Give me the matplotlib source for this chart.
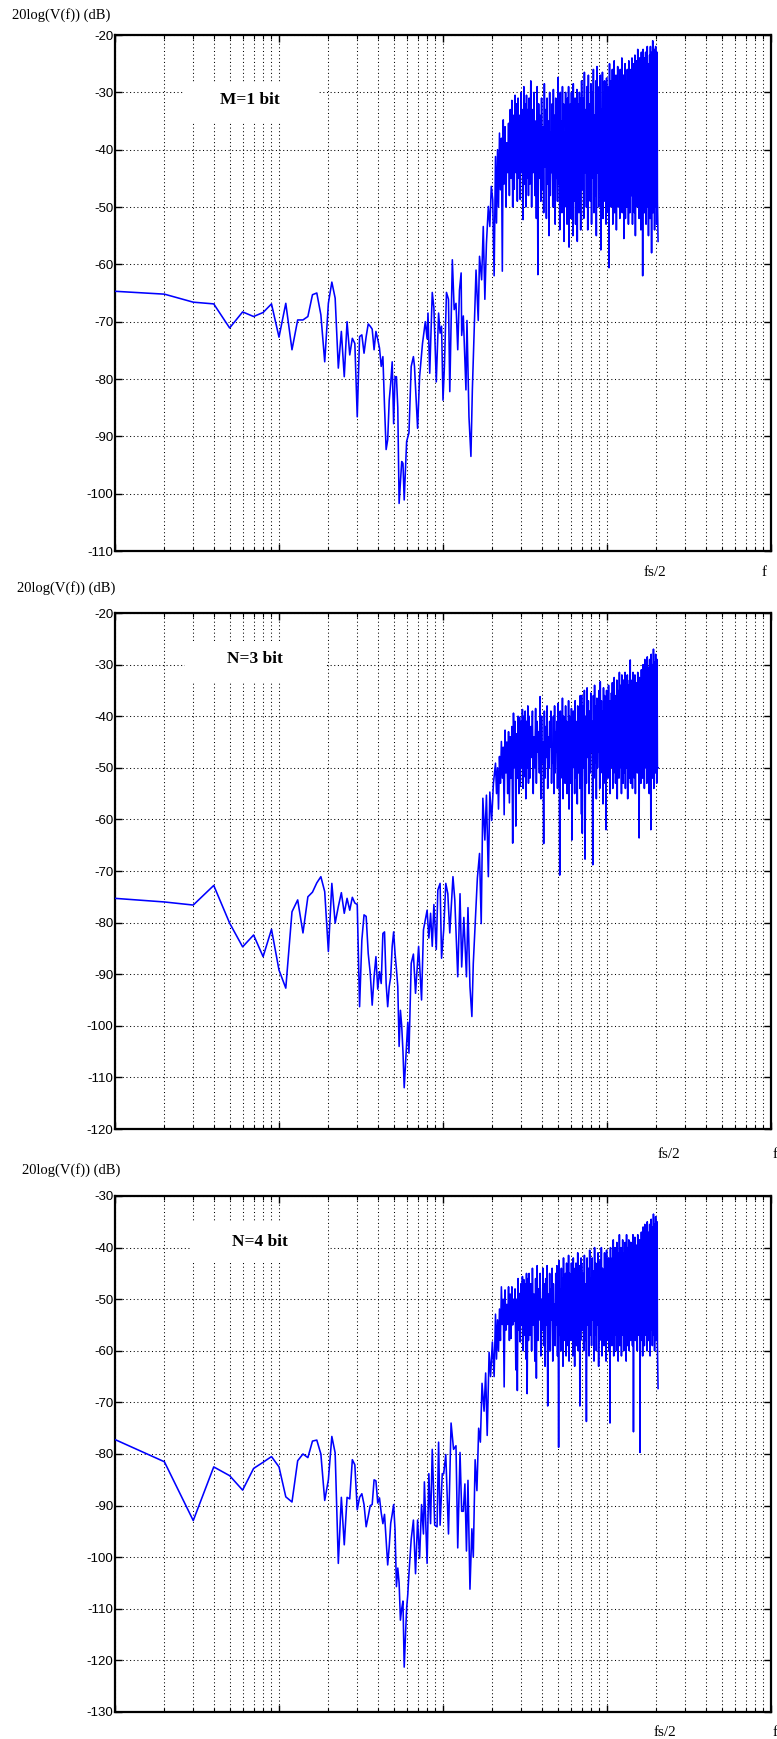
import numpy as np
import matplotlib
matplotlib.use('Agg')
import matplotlib.pyplot as plt
from matplotlib.ticker import LogLocator, NullFormatter, MultipleLocator
from matplotlib.patches import Rectangle

plt.rcParams['axes.unicode_minus'] = False
plt.rcParams['font.family'] = ['Liberation Sans', 'DejaVu Sans']

# ---------------- data: FFT bins (1..2048) and level in dB ----------------
# dense high-frequency part: (first bin, bin step); values alternate
# between the "peaks" list (even positions) and the "dips" list (odd positions)
DENSE_SEGMENTS = [(209, 3), (335, 4), (700, 7), (1400, 10)]
LAST_BIN = 2048

# Panel 1 : M=1 bit
p1_low = [-64.7, -65.2, -66.6, -66.9, -71.1, -68.3, -69.1, -68.4, -66.9, -72.7,
          -66.8, -74.9, -69.7, -69.7, -69.1, -65.3, -65.0, -68.8, -77.0, -66.8,
          -63.1, -65.9, -78.1, -71.7, -79.6, -70.0, -75.8, -72.9, -73.8, -86.6,
          -72.6, -72.3, -75.5, -72.6, -70.4, -70.8, -71.3, -74.9, -71.7, -73.1,
          -74.6, -77.8, -76.1, -84.8, -92.3, -90.6, -83.7, -80.7, -77.0, -87.8,
          -79.6, -79.6, -85.0, -101.7]
p1_mid = [(55, -98), (56, -94.4), (57, -94.7), (58, -101.1), (60, -90.9), (62, -89.4),
          (64, -77.8), (66, -76.1), (67, -77.8), (70, -88.6), (72, -79.6), (75, -73.8),
          (78, -70.0), (80, -73), (81, -68.5), (83, -79), (86, -64.9), (88, -67.6),
          (91, -80.5), (94, -68.5), (96, -72), (98, -70.8), (100, -83.7), (102, -77.8),
          (105, -64.9), (108, -66.1), (110, -82.2), (114, -59.2), (117, -67.9), (120, -66.8),
          (123, -74.9), (126, -64.5), (129, -61.5), (130, -72.4), (133, -69), (138, -81.9),
          (140, -69.8), (144, -86.6), (148, -93.5), (151, -81.9), (155, -71.6), (159, -61),
          (164, -69.8), (167, -58.6), (172, -62.7), (176, -53.4), (180, -66.1), (184, -56.4),
          (189, -49.9), (193, -53.4), (197, -46.4), (201, -48.7), (205, -62)]
p1_peaks_0 = [-41.2, -40, -37.1, -38, -34.8, -36, -38.8, -35.4, -33, -31.4, -34,
              -30.5, -32, -31, -34, -30, -33, -29, -32, -30.5, -33]
p1_dips_0 = [-52.8, -50, -47, -61.2, -46, -50, -44, -48, -45, -50, -46.9,
             -44, -49, -45, -48.7, -44, -52.2, -46, -50, -45, -48]
p1_peaks_a = [-31, -28, -33, -30, -35, -29, -32, -34, -31, -36, -28.5, -33, -31, -35, -30,
              -37, -32, -29.5, -34, -31, -36, -27.4, -33, -30, -35, -29, -32, -37, -30, -34,
              -31, -29, -36, -32, -30, -35, -28.5, -33, -31, -36, -29.5, -32, -34, -30, -33, -31]
p1_dips_a = [-46, -50, -44, -48, -52, -61.8, -45, -49, -47, -51, -43, -52, -46, -55, -48,
             -44, -50, -47, -53, -45, -49, -46, -54, -48, -51, -44, -56, -47, -50, -53,
             -45, -57, -48, -52, -46, -55, -49, -44, -53, -47, -56, -45, -51, -48, -54, -47]
p1_peaks_b = [-28, -31, -26.5, -33, -29, -27, -32, -28.5, -30, -26, -34, -28, -25.5, -31, -29,
              -27, -33, -26.5, -30, -28, -32, -27.5, -29, -31, -25, -28, -32, -26, -29, -24.5,
              -31, -27, -30, -25.5, -33, -28, -26, -30, -24, -29, -27, -32, -25, -28, -30,
              -26, -31, -24.5, -28, -27]
p1_dips_b = [-47, -52, -44, -50, -54, -46, -49, -53, -45, -51, -48, -55, -44, -50, -47,
             -57.5, -46, -52, -49, -45, -53, -48, -51, -60.6, -46, -50, -44, -53, -48, -51,
             -45, -54, -47, -50, -43, -52, -48, -46, -51, -49, -55.5, -45, -52, -47, -50,
             -44, -53, -48, -51, -46]
p1_peaks_c = [-26, -24, -28, -25, -23.5, -27, -24.5, -22.5, -26, -24, -29, -23, -25.5, -22.5,
              -27, -24, -23, -26, -22, -25, -28, -23.5, -22, -25, -23, -21, -24, -22.5, -26,
              -22, -24, -23]
p1_dips_c = [-48, -53, -46, -51, -55, -47, -50, -44, -52, -49, -54, -46, -62, -48, -51, -45,
             -53, -50, -47, -55, -49, -52, -46, -58, -48, -51, -45, -54, -50, -47, -53, -49]
p1_last = -56

# Panel 2 : N=3 bit
p2_low = [-75.3, -76.0, -76.6, -72.8, -80.1, -84.7, -82.4, -86.6, -81.3, -89.2,
          -92.7, -77.9, -75.6, -82.0, -75.0, -74.1, -72.3, -71.1, -74.0, -85.6,
          -72.4, -80.1, -76.9, -74.2, -78.2, -75.3, -77.6, -75.1, -76.2, -76.5,
          -96.3, -83.4, -78.5, -78.8, -86.0, -89.8, -96.0, -90.5, -86.6, -92.9,
          -89.5, -91.8, -82.1, -81.8, -91.8, -96.3, -92.4, -90.5, -84.6, -81.8,
          -86.0, -89.0, -92.4, -104.0, -97.0]
p2_mid = [(56, -100), (57, -105), (58, -112), (60, -103.4), (61, -99.3), (62, -105.3),
          (64, -87.9), (66, -86.1), (68, -93.7), (71, -84.6), (74, -95), (76, -81.4),
          (80, -77.6), (82, -83), (84, -78.2), (86, -84.6), (88, -76.5), (91, -85.2),
          (93, -73.7), (96, -72.4), (98, -86.9), (101, -81.4), (104, -72.4), (107, -74.4),
          (110, -82), (115, -71.1), (118, -75.6), (123, -90.5), (127, -74.4), (130, -88.6),
          (134, -79), (139, -90.5), (142, -77.1), (146, -92.4), (150, -98.2), (153, -87.9),
          (157, -80.5), (162, -71.4), (167, -66.6), (171, -80.2), (175, -55.9), (180, -64),
          (184, -55.3), (189, -71.1), (193, -54.7), (198, -60.2), (203, -53)]
p2_peaks_0 = [-49.1, -50, -47.8, -44.9, -46, -42.7, -45, -43, -44, -42, -39.4,
              -41, -43.4, -40, -40.2, -41, -38.7, -40, -39, -41, -38]
p2_dips_0 = [-55, -58, -53, -52, -59.1, -51, -55, -56.8, -52, -64.6, -50,
             -61.3, -52, -55, -53.6, -50, -54, -51.7, -56, -50, -53]
p2_peaks_a = [-40, -42, -39, -44, -38.5, -41, -43, -36.2, -40, -45, -39, -42, -38, -44, -41,
              -39, -46, -40, -38, -43, -41, -37.5, -44, -39, -42, -36.5, -40, -45, -38, -41,
              -43, -37, -40, -44, -38.5, -42, -39, -46, -37, -41, -43, -38, -40, -44, -36, -39]
p2_dips_a = [-52, -48, -55, -50, -53, -47, -51, -56, -49, -64.7, -52, -48, -54, -50, -46,
             -53, -49, -55, -51, -47, -54, -50, -70.8, -52, -48, -56, -50, -53, -47, -55,
             -51, -58, -49, -53, -64, -50, -47, -55, -52, -49, -57, -51, -48, -54, -50, -59]
p2_peaks_b = [-36, -38, -35, -40, -34.5, -37, -39, -35.5, -41, -36, -34, -38, -36.5, -40, -35,
              -33.3, -37, -39, -34.5, -36, -41, -35, -38, -34, -37, -40, -35.5, -33.5, -38,
              -32.5, -36, -39, -33, -35, -37, -31.5, -34, -38, -32, -36, -33, -39, -31.5, -35,
              -37, -32, -34, -36, -33, -29.1]
p2_dips_b = [-62.7, -50, -67.7, -53, -48, -55, -51, -47, -68.8, -52, -49, -56, -50, -47, -54,
             -51, -48, -57, -50, -53, -62, -49, -52, -47, -55, -50, -48, -54, -51, -46,
             -53, -49, -56, -48, -52, -50, -47, -55, -49, -53, -46, -51, -54, -48, -50,
             -56, -47, -52, -49, -53]
p2_peaks_c = [-33, -35, -31.5, -34, -32, -36, -33.5, -31.5, -35, -32.5, -34, -31, -33, -30,
              -32.5, -29, -31, -33, -28.5, -30.5, -32, -29, -31, -28, -30, -32, -27, -29.5,
              -31, -28, -30, -29]
p2_dips_c = [-50, -54, -48, -52, -55, -49, -51, -47, -63.6, -50, -53, -48, -52, -46, -54, -50,
             -49, -53, -47, -51, -55, -48, -62, -50, -52, -47, -54, -49, -51, -48, -53, -50]
p2_last = -50

# Panel 3 : N=4 bit
p3_low = [-77.2, -81.5, -92.9, -82.5, -84.2, -87.0, -82.8, -81.6, -80.5, -82.5,
          -88.3, -89.3, -81.3, -80.0, -80.7, -77.5, -77.3, -80.0, -89.0, -85.0,
          -76.6, -79.8, -101.2, -88.4, -97.6, -88.4, -88.7, -81.1, -82.1, -90.8,
          -88.4, -87.7, -89.8, -94.1, -92.1, -90.0, -89.8, -85.0, -85.2, -89.5,
          -88.5, -91.4, -93.5, -91.7, -96.6, -101.5, -97.9, -93.4, -91.7, -89.8,
          -94.7, -105.7, -102.1, -105.0, -112.2]
p3_mid = [(56, -110), (57, -108.5), (58, -121.3), (60, -109.9), (61, -107.2), (62, -103.2),
          (64, -96.5), (66, -92.8), (68, -103.2), (70, -92.8), (72, -100.2), (74, -89.8),
          (76, -95.5), (77, -85.4), (80, -101.2), (82, -83.8), (84, -93.5), (86, -79.1),
          (89, -93.8), (92, -94.1), (94, -77.7), (96, -93.8), (99, -83.8), (101, -83.8),
          (104, -80.1), (108, -95.5), (112, -74), (116, -79.1), (120, -78.4), (123, -98.2),
          (127, -79.7), (130, -91.1), (133, -91.1), (136, -85.8), (139, -98.8), (142, -85.1),
          (146, -106.2), (150, -94.5), (153, -99.9), (157, -81.1), (161, -87.1), (165, -75),
          (169, -77.7), (173, -66.3), (178, -71.7), (182, -64.3), (186, -76.4), (191, -60.3),
          (195, -65), (200, -58.3), (205, -65)]
p3_peaks_0 = [-52.9, -54, -51.9, -47.6, -50, -48.2, -51, -47.6, -49, -47.6, -50,
              -48, -50, -46, -48.9, -47, -45.6, -46.2, -47, -45, -46]
p3_dips_0 = [-61.6, -60, -58, -54.9, -67, -56, -54.9, -58, -57.6, -55, -54.3,
             -63.7, -67.7, -56, -58.3, -55, -60, -57, -61.6, -68.3, -58]
p3_peaks_a = [-45, -47, -44, -49, -46, -43.5, -48, -45, -50, -44, -47, -46, -43.5, -49, -45,
              -48, -44, -47, -51, -45, -43.5, -46, -42.5, -48, -44, -46, -42, -49, -45, -43,
              -47, -41.5, -45, -48, -43, -46, -42, -50, -44, -43, -47, -41, -45, -43.5, -48, -42]
p3_dips_a = [-57, -60, -55, -62, -65.3, -58, -54, -61, -56, -59, -63, -55, -70.7, -58, -60,
             -54, -62, -57, -59, -55, -61, -78.7, -57, -60, -54, -63, -58, -56, -61, -55,
             -59, -62, -56, -58, -54, -61, -57, -63, -55, -59, -56, -60, -54, -70.7, -58, -56]
p3_peaks_b = [-43, -45, -41.5, -47, -42, -44, -40.5, -46, -42, -44.5, -40, -43, -45, -41, -47,
              -42.5, -40, -44, -46, -41, -43, -40.5, -45, -42, -44, -40, -46, -42, -38.5, -43,
              -40, -45, -39, -42, -41, -37.5, -44, -40, -43, -38.5, -41, -45, -39, -42, -37.5,
              -44, -40, -38.5, -43, -39]
p3_dips_b = [-56, -60, -58, -73.7, -55, -61, -57, -59, -54, -62, -57, -60, -55, -63, -58,
             -56, -61, -54, -59, -57, -62, -55, -58, -60, -74, -56, -59, -55, -61, -57,
             -54, -60, -58, -62, -55, -59, -56, -61, -57, -54, -60, -58, -56, -62, -55,
             -59, -57, -60, -54, -58]
p3_peaks_c = [-39, -41, -37.5, -40, -38, -42, -39.5, -37.5, -41, -38.5, -40, -37, -39, -36,
              -38, -35.5, -37.5, -39, -35, -37, -38.5, -35.5, -37, -34.5, -36, -38, -33.5,
              -35.5, -37, -34, -36, -35]
p3_dips_c = [-56, -59, -75.7, -55, -58, -54, -60, -57, -55, -79.7, -58, -54, -61, -56, -59,
             -53, -57, -60, -55, -58, -54, -61, -56, -53, -59, -57, -55, -60, -54, -58, -56, -59]
p3_last = -67.3

titles = ['M=1 bit', 'N=3 bit', 'N=4 bit']
ylims = [(-110, -20), (-120, -20), (-130, -30)]
ylabel_text = '20log(V(f)) (dB)'


def assemble(low, mid, dense_pairs, last):
    xs = list(range(1, len(low) + 1))
    ys = list(low)
    for b, v in mid:
        xs.append(b)
        ys.append(v)
    for (start, step), (peaks, dips) in zip(DENSE_SEGMENTS, dense_pairs):
        for i in range(min(len(peaks), len(dips))):
            xs += [start + 2 * step * i, start + step * (2 * i + 1)]
            ys += [peaks[i], dips[i]]
    xs.append(LAST_BIN)
    ys.append(last)
    return np.array(xs), np.array(ys)


series = [
    assemble(p1_low, p1_mid, [(p1_peaks_0, p1_dips_0), (p1_peaks_a, p1_dips_a),
                              (p1_peaks_b, p1_dips_b), (p1_peaks_c, p1_dips_c)], p1_last),
    assemble(p2_low, p2_mid, [(p2_peaks_0, p2_dips_0), (p2_peaks_a, p2_dips_a),
                              (p2_peaks_b, p2_dips_b), (p2_peaks_c, p2_dips_c)], p2_last),
    assemble(p3_low, p3_mid, [(p3_peaks_0, p3_dips_0), (p3_peaks_a, p3_dips_a),
                              (p3_peaks_b, p3_dips_b), (p3_peaks_c, p3_dips_c)], p3_last),
]

# ---------------- layout (figure pixels 777 x 1739) ----------------
W, H = 777, 1739
fig = plt.figure(figsize=(W / 100, H / 100), dpi=100)

axes_px = [(115, 35, 771, 551), (115, 613, 771, 1129), (115, 1196, 771, 1712)]
label_boxes = [(0.104, 0.831, 0.309, 0.909), (0.107, 0.866, 0.320, 0.942),
               (0.117, 0.872, 0.325, 0.950)]
label_pos = [(0.206, 0.874), (0.214, 0.911), (0.221, 0.911)]
ylabel_pos = [(12, 15), (17, 588), (22, 1170)]
fs2_pos = [(655, 573), (669, 1154), (665, 1732)]
f_pos = [(764, 573), (775, 1154), (775, 1732)]

grid_kw = dict(color='black', linestyle=(0, (1, 2.5)), linewidth=0.75)

for k in range(3):
    x0, y0, x1, y1 = axes_px[k]
    ax = fig.add_axes([x0 / W, 1 - y1 / H, (x1 - x0) / W, (y1 - y0) / H])
    xs, ys = series[k]
    ax.plot(xs, ys, color='#0000ff', linewidth=1.15, zorder=3)
    ax.set_xscale('log')
    ax.set_xlim(1, 1e4)
    ax.set_ylim(*ylims[k])
    ax.yaxis.set_major_locator(MultipleLocator(10))
    ax.xaxis.set_major_locator(LogLocator(base=10, numticks=20))
    ax.xaxis.set_minor_locator(LogLocator(base=10, subs=np.arange(2, 10), numticks=100))
    ax.xaxis.set_major_formatter(NullFormatter())
    ax.xaxis.set_minor_formatter(NullFormatter())
    ax.set_axisbelow(True)
    ax.grid(True, which='both', axis='x', **grid_kw)
    ax.grid(True, which='major', axis='y', **grid_kw)
    ax.tick_params(which='both', direction='in', top=True, right=True, colors='black')
    ax.tick_params(which='major', length=5, width=1.0)
    ax.tick_params(which='minor', length=3, width=0.8)
    ax.tick_params(axis='y', labelsize=9.5, pad=1)
    for s in ax.spines.values():
        s.set_linewidth(1.6)

    bx0, by0, bx1, by1 = label_boxes[k]
    ax.add_patch(Rectangle((bx0, by0), bx1 - bx0, by1 - by0, transform=ax.transAxes,
                           facecolor='white', edgecolor='none', zorder=1))
    ax.text(label_pos[k][0], label_pos[k][1], titles[k], transform=ax.transAxes,
            ha='center', va='center', fontsize=12.5, fontweight='bold',
            family=['Liberation Serif', 'DejaVu Serif'], zorder=4)

    fig.text(ylabel_pos[k][0] / W, 1 - ylabel_pos[k][1] / H, ylabel_text,
             ha='left', va='center', fontsize=10.5,
             family=['Liberation Serif', 'DejaVu Serif'])
    fig.text(fs2_pos[k][0] / W, 1 - fs2_pos[k][1] / H, 'fs/2',
             ha='center', va='center', fontsize=11,
             family=['Liberation Serif', 'DejaVu Serif'])
    fig.text(f_pos[k][0] / W, 1 - f_pos[k][1] / H, 'f',
             ha='center', va='center', fontsize=11,
             family=['Liberation Serif', 'DejaVu Serif'])

fig.savefig('out.png', dpi=100)
